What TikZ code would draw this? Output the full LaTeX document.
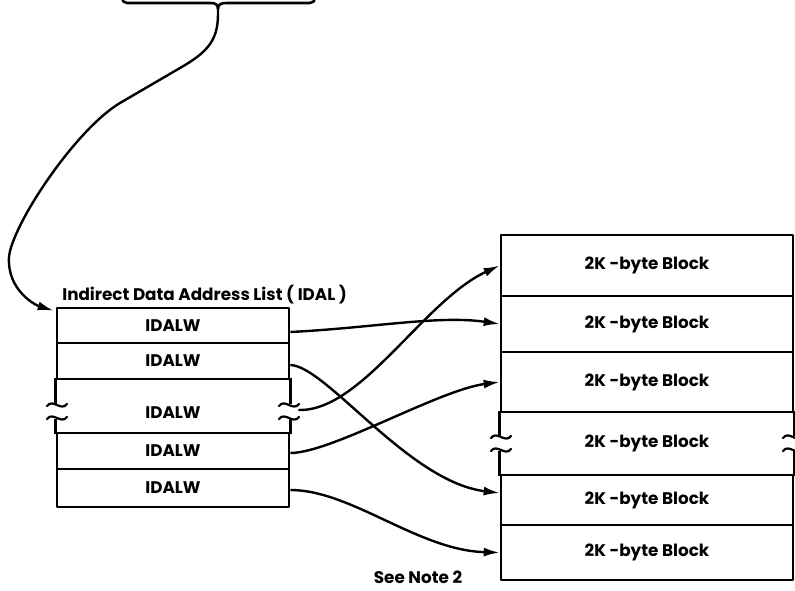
\documentclass[tikz,border=0pt]{standalone}
\usepackage{fontspec}
\setmainfont{Poppins}
\usetikzlibrary{arrows.meta,calc,positioning}
\tikzset{
 dalist/.style={x=1pt,y=-1pt,line width=2.6pt,line join=round,
   font=\fontsize{16.8}{20}\selectfont\bfseries},
 wordcell/.style={rectangle,draw,inner sep=0pt,minimum width=232pt,minimum height=#1},
 blockcell/.style={rectangle,draw,inner sep=0pt,minimum width=292pt,minimum height=#1},
 opencell/.style={draw=none},
 brk/.style={line width=2.2pt,line cap=round},
 ptr/.style={draw,line width=2.4pt,-{Latex[length=16pt,width=9pt]}},
 caption/.style={anchor=west,inner sep=0pt},
}
% small break sign on a cut edge
\newcommand{\brkmark}[1]{\draw[brk] ($#1+(-10,1)$) .. controls ($#1+(-4,-7)$) and ($#1+(4,7)$) .. ($#1+(10,-1)$);}

\begin{document}
\begin{tikzpicture}[dalist]
 \clip (0,0) rectangle (795,591);
 % cut-off box at the top
 \draw[rounded corners=5pt] (122,-20) -- (122,3) -- (210,3);
 \draw[rounded corners=5pt] (315,-20) -- (315,3) -- (227,3);
 \draw (210,3) .. controls (215,3) and (218,4) .. (218,9);
 \draw (227,3) .. controls (221,3) and (218,4) .. (218,9);
 \coordinate (cusp) at (218,9);
 % IDAL
 \node[wordcell=35pt] (w1) at (173,325.5) {IDALW};
 \node[wordcell=36pt] (w2) at (173,361) {IDALW};
 \node[wordcell=54pt,opencell] (w3) at (173,406) {};
 \node (w3t) at (173,413) {IDALW};
 \node[wordcell=36pt] (w4) at (173,451) {IDALW};
 \node[wordcell=38pt] (w5) at (173,488) {IDALW};
 \draw (w3.north west) -- ++(0,26); \draw (w3.south west) -- ++(0,-15);
 \draw (w3.north east) -- ++(0,26); \draw (w3.south east) -- ++(0,-15);
 \brkmark{(57,405)} \brkmark{(57,418)}
 \brkmark{(289,405)} \brkmark{(289,418)}
 \node[caption] (idal) at (61,295) {Indirect Data Address List ( IDAL )};
 % 2K blocks
 \node[blockcell=61pt] (k1) at (647,265.5) {2K -byte Block};
 \node[blockcell=56pt] (k2) at (647,324) {2K -byte Block};
 \node[blockcell=60pt] (k3) at (647,382) {2K -byte Block};
 \node[blockcell=63pt,opencell] (k4) at (647,443.5) {2K -byte Block};
 \node[blockcell=50pt] (k5) at (647,500) {2K -byte Block};
 \node[blockcell=55pt] (k6) at (647,552.5) {2K -byte Block};
 \draw (k4.north west) -- ++(0,25); \draw (k4.south west) -- ++(0,-25);
 \draw (k4.north east) -- ++(0,25); \draw (k4.south east) -- ++(0,-25);
 \brkmark{(501,437)} \brkmark{(501,450)}
 \brkmark{(793,437)} \brkmark{(793,450)}
 \node (note) at (418,577) {See Note 2};
 % pointers
 \draw[ptr] (cusp) -- (218,14) .. controls (218,40) and (208,52) .. (180,68) -- (120,103)
   .. controls (75,130) and (12,225) .. (9,257)
   .. controls (7,290) and (35,305) .. ($(w1.north west)+(-2,4)$);
 \draw[ptr] ($(w1.east)+(0,6.5)$) .. controls +(81,-4) and +(-61,-9) .. (k2.west);
 \draw[ptr] ($(w2.east)+(0,4)$) .. controls +(36,1) and +(-91,-11) .. ($(k5.west)+(0,-7)$);
 \draw[ptr] ($(w3.east)+(8,4)$) .. controls +(63,2) and +(-76,35) .. (k1.west);
 \draw[ptr] ($(w4.east)+(0,2)$) .. controls +(41,0) and +(-61,8) .. (k3.west);
 \draw[ptr] ($(w5.east)+(0,2)$) .. controls +(61,0) and +(-81,-2) .. (k6.west);
\end{tikzpicture}
\end{document}
